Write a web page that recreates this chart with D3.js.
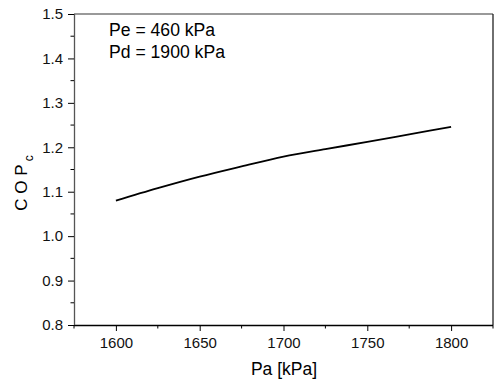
<!DOCTYPE html>
<html><head><meta charset="utf-8">
<script src="https://cdn.jsdelivr.net/npm/d3@7"></script>
<style>
html,body{margin:0;padding:0;background:#fff;}
svg{display:block;font-family:"Liberation Sans",Arial,sans-serif;}
</style></head>
<body>
<svg id="c" width="494" height="382"></svg>
<script>
const paValues = [1600, 1625, 1650, 1675, 1700, 1725, 1750, 1775, 1800];
const copValues = [1.080, 1.108, 1.134, 1.157, 1.179, 1.196, 1.212, 1.229, 1.246];
const xMajorTicks = [1600, 1650, 1700, 1750, 1800];
const xMinorTicks = [1575, 1625, 1675, 1725, 1775, 1825];
const yMajorTicks = [0.8, 0.9, 1.0, 1.1, 1.2, 1.3, 1.4, 1.5];
const yMinorTicks = [0.85, 0.95, 1.05, 1.15, 1.25, 1.35, 1.45];
const annotations = ["Pe = 460 kPa", "Pd = 1900 kPa"];

const svg = d3.select("#c");
const L = 74, R = 493, T = 14, B = 325;
const x = d3.scaleLinear().domain([1575, 1825]).range([L, R]);
const y = d3.scaleLinear().domain([0.8, 1.5]).range([B, T]);

// frame top/right
svg.append("line").attr("x1", L).attr("x2", R).attr("y1", T).attr("y2", T)
  .attr("stroke", "#777").attr("stroke-width", 1.3);
svg.append("line").attr("x1", R).attr("x2", R).attr("y1", T).attr("y2", B)
  .attr("stroke", "#222").attr("stroke-width", 1.3);

// x axis
const gx = svg.append("g").attr("transform", `translate(0,${B})`)
  .call(d3.axisBottom(x).tickValues(xMajorTicks).tickFormat(d3.format("d")).tickSize(6).tickPadding(6));
gx.append("g").selectAll("line").data(xMinorTicks).join("line")
  .attr("x1", d => x(d)).attr("x2", d => x(d)).attr("y1", 0).attr("y2", 3.5)
  .attr("stroke", "#000");
gx.select(".domain").attr("stroke", "#000").attr("stroke-width", 1.4).attr("d", `M${L},0.5H${R}`);

// y axis
const gy = svg.append("g").attr("transform", `translate(${L},0)`)
  .call(d3.axisLeft(y).tickValues(yMajorTicks).tickFormat(d3.format(".1f")).tickSize(6).tickPadding(5));
gy.append("g").selectAll("line").data(yMinorTicks).join("line")
  .attr("y1", d => y(d)).attr("y2", d => y(d)).attr("x1", 0).attr("x2", -3.5)
  .attr("stroke", "#000");
gy.select(".domain").attr("stroke", "#555").attr("stroke-width", 1.3).attr("d", `M0.5,${T}V${B}`);

svg.selectAll(".tick text").attr("font-size", 15).attr("fill", "#111")
  .attr("font-family", "'Liberation Sans',Arial,sans-serif");
svg.selectAll(".tick line").attr("stroke", "#000");

// curve
const line = d3.line().x((d, i) => x(paValues[i])).y(d => y(d)).curve(d3.curveMonotoneX);
svg.append("path").datum(copValues).attr("d", line)
  .attr("fill", "none").attr("stroke", "#000").attr("stroke-width", 1.8);

// annotations
svg.selectAll(".ann").data(annotations).join("text").attr("class", "ann")
  .attr("x", 109).attr("y", (d, i) => 36 + i * 21.5)
  .attr("font-size", 17.6).attr("fill", "#000").text(d => d);

// axis titles
svg.append("text").attr("x", (L + R) / 2 + 0.5).attr("y", 375).attr("text-anchor", "middle")
  .attr("font-size", 17.5).attr("fill", "#000").text("Pa [kPa]");

const yt = svg.append("text").attr("transform", "translate(27,183) rotate(-90)")
  .attr("text-anchor", "middle").attr("font-size", 17).attr("fill", "#000");
yt.append("tspan").text("C O P");
yt.append("tspan").attr("font-size", 12).attr("dx", 3).attr("dy", 6).text("c");
</script>
</body></html>
